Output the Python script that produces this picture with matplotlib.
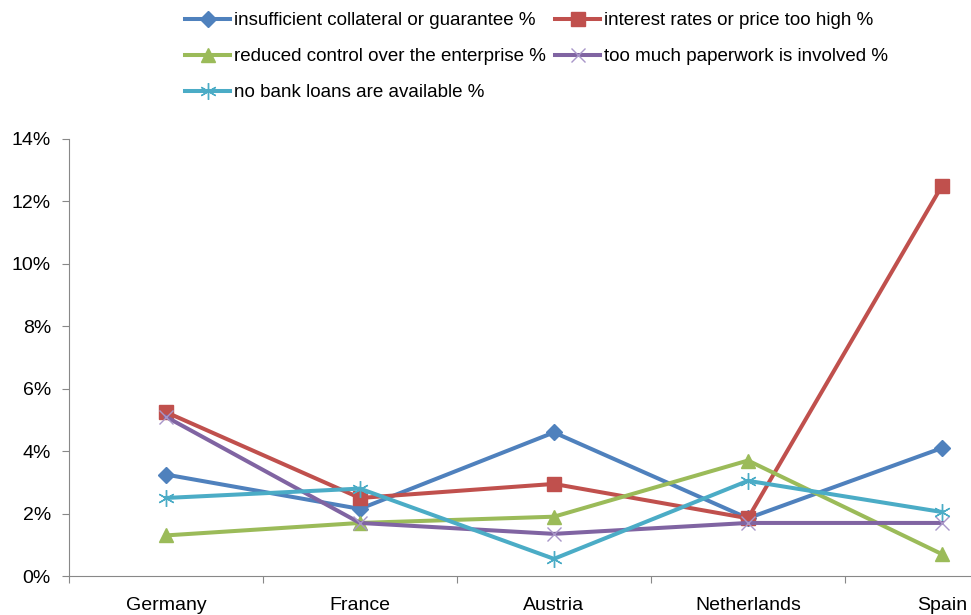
import matplotlib
matplotlib.use("Agg")
import matplotlib.pyplot as plt
from matplotlib.ticker import FuncFormatter

countries = ["Germany", "France", "Austria", "Netherlands", "Spain"]
collateral = [3.25, 2.15, 4.6, 1.85, 4.1]
interest = [5.25, 2.5, 2.95, 1.85, 12.5]
control = [1.3, 1.7, 1.9, 3.7, 0.7]
paperwork = [5.1, 1.7, 1.35, 1.7, 1.7]
no_loans = [2.5, 2.8, 0.55, 3.05, 2.05]

labels = ["insufficient collateral or guarantee %",
          "interest rates or price too high %",
          "reduced control over the enterprise %",
          "too much paperwork is involved %",
          "no bank loans are available %"]

plt.rcParams["font.family"] = ["Liberation Sans", "DejaVu Sans"]

fig = plt.figure(figsize=(9.71, 6.15), dpi=100)
ax = fig.add_axes([0.071, 0.0634, 0.999, 0.7106])

x = list(range(len(countries)))
styles = [
    dict(color="#4F81BD", marker="D", markersize=8),
    dict(color="#C0504D", marker="s", markersize=10),
    dict(color="#9BBB59", marker="^", markersize=10),
    dict(color="#8064A2", marker="x", markersize=10, markeredgecolor="#A896C8", markeredgewidth=1.0),
    dict(color="#4BACC6", marker=(6, 2, 0), markersize=12, markeredgewidth=1.0),
]
series = [collateral, interest, control, paperwork, no_loans]
handles = []
for vals, lab, st in zip(series, labels, styles):
    h, = ax.plot(x, vals, linewidth=2.9, label=lab, **st)
    handles.append(h)

ax.set_xlim(-0.5, len(countries) - 0.5)
ax.set_ylim(0, 14)
ax.set_yticks(range(0, 15, 2))
ax.yaxis.set_major_formatter(FuncFormatter(lambda v, p: "%d%%" % v))
ax.set_xticks([i - 0.5 for i in range(len(countries) + 1)], minor=False)
ax.set_xticklabels([])
ax.set_xticks(x, minor=True)
ax.set_xticklabels(countries, minor=True)
ax.tick_params(axis="x", which="minor", length=0, pad=15, labelsize=14)
ax.tick_params(axis="x", which="major", length=5, color="#888888")
ax.tick_params(axis="y", length=5, color="#888888", labelsize=14, pad=8)

for s in ["top", "right"]:
    ax.spines[s].set_visible(False)
for s in ["left", "bottom"]:
    ax.spines[s].set_color("#888888")

order = [0, 2, 4, 1, 3]
fig.legend(handles=[handles[i] for i in order], loc="upper left",
           bbox_to_anchor=(0.187, 0.986), ncol=2,
           frameon=False, fontsize=13.5, handlelength=2.4, handletextpad=0.2,
           columnspacing=0.5, labelspacing=1.0, borderaxespad=0, borderpad=0.2)

fig.savefig("out.png", dpi=100)
